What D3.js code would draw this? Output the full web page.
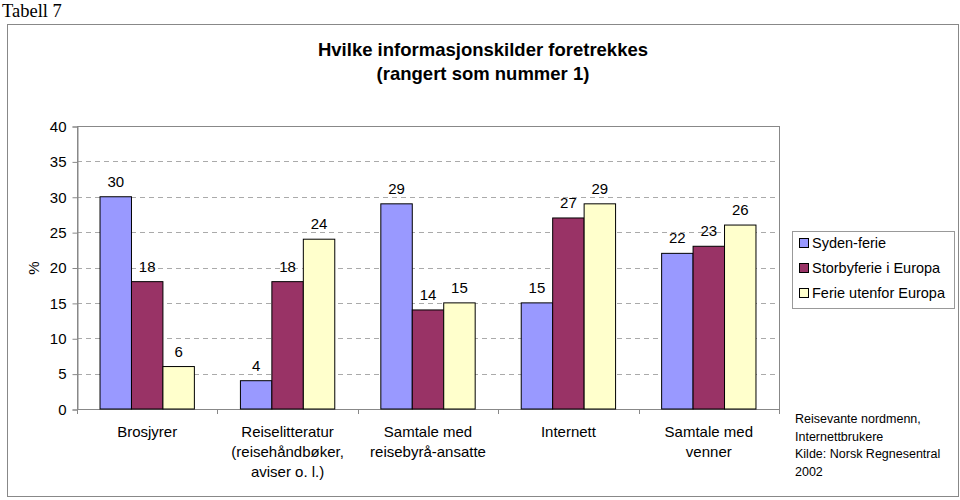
<!DOCTYPE html>
<html><head><meta charset="utf-8">
<script src="https://cdn.jsdelivr.net/npm/d3@7"></script>
<style>body{margin:0;background:#fff}svg{display:block}text{font-family:Arial,"Liberation Sans",sans-serif}</style>
</head><body>
<svg id="c" width="960" height="500"></svg>
<script>
const categories = [["Brosjyrer"],["Reiselitteratur","(reisehåndbøker,","aviser o. l.)"],["Samtale med","reisebyrå-ansatte"],["Internett"],["Samtale med","venner"]];
const seriesNames = ["Syden-ferie","Storbyferie i Europa","Ferie utenfor Europa"];
const syden = [30,4,29,15,22];
const storby = [18,18,14,27,23];
const utenfor = [6,24,15,29,26];
const yTicks = [0,5,10,15,20,25,30,35,40];
const colors = ["#9999FF","#993366","#FFFFCC"];
const noteLines = ["Reisevante nordmenn,","Internettbrukere","Kilde: Norsk Regnesentral","2002"];

const svg = d3.select("#c");
svg.append("text").attr("x",2).attr("y",17).style("font-family","'Liberation Serif','Times New Roman',serif").attr("font-size",18.5).text("Tabell 7");
svg.append("rect").attr("x",7.5).attr("y",24.5).attr("width",951).attr("height",472).attr("fill","none").attr("stroke","#888").attr("stroke-width",1);

svg.append("text").attr("x",483).attr("y",56).attr("text-anchor","middle").attr("font-weight","bold").attr("font-size",18.5).text("Hvilke informasjonskilder foretrekkes");
svg.append("text").attr("x",483).attr("y",80).attr("text-anchor","middle").attr("font-weight","bold").attr("font-size",18.5).text("(rangert som nummer 1)");

const L=77,R=779,T=126,B=409;
const x0 = d3.scaleBand().domain(d3.range(categories.length)).range([L,R]).paddingInner(0.328).paddingOuter(0.164);
const x1 = d3.scaleBand().domain(d3.range(3)).range([0,x0.bandwidth()]);
const y = d3.scaleLinear().domain([0,40]).range([B,T]);

svg.append("g").selectAll("line").data(yTicks.filter(t=>t>0&&t<40)).join("line")
 .attr("x1",L).attr("x2",R).attr("y1",d=>Math.round(y(d))+0.5).attr("y2",d=>Math.round(y(d))+0.5)
 .attr("stroke","#aaa").attr("stroke-dasharray","5,4");
svg.append("rect").attr("x",L+0.5).attr("y",T+0.5).attr("width",R-L).attr("height",B-T).attr("fill","none").attr("stroke","#888");

const yAxis = d3.axisLeft(y).tickValues(yTicks).tickSize(5).tickPadding(6);
const gy = svg.append("g").attr("transform",`translate(${L+0.5},0.5)`).call(yAxis);
gy.select(".domain").attr("stroke","#888");
gy.selectAll(".tick line").attr("stroke","#888");
gy.selectAll(".tick text").attr("font-size",15).attr("font-family",null).attr("fill","#000");

svg.append("text").attr("transform","translate(39,268) rotate(-90)").attr("text-anchor","middle").attr("font-size",15).text("%");

const step = (R-L)/categories.length;
svg.append("g").selectAll("line").data(d3.range(categories.length+1)).join("line")
 .attr("x1",d=>Math.round(L+step*d)+0.5).attr("x2",d=>Math.round(L+step*d)+0.5).attr("y1",B).attr("y2",B+5).attr("stroke","#888");
svg.append("line").attr("x1",L).attr("x2",R).attr("y1",B+0.5).attr("y2",B+0.5).attr("stroke","#888");

const series=[syden,storby,utenfor];
series.forEach((vals,s)=>{
  const g=svg.append("g");
  g.selectAll("rect").data(vals).join("rect")
   .attr("x",(d,i)=>x0(i)+x1(s)).attr("width",x1.bandwidth())
   .attr("y",d=>y(d)).attr("height",d=>B-y(d))
   .attr("fill",colors[s]).attr("stroke","#000").attr("stroke-width",1);
  g.selectAll("text").data(vals).join("text")
   .attr("x",(d,i)=>x0(i)+x1(s)+x1.bandwidth()/2).attr("y",d=>y(d)-10)
   .attr("text-anchor","middle").attr("font-size",15).text(d=>d);
});

const cg=svg.append("g");
categories.forEach((lines,i)=>{
  lines.forEach((t,j)=>{
    cg.append("text").attr("x",L+step*(i+0.5)).attr("y",437+j*20).attr("text-anchor","middle").attr("font-size",15).text(t);
  });
});

svg.append("rect").attr("x",792.5).attr("y",231.5).attr("width",162).attr("height",77).attr("fill","#fff").attr("stroke","#999");
seriesNames.forEach((n,i)=>{
  svg.append("rect").attr("x",799.5).attr("y",238.5+i*25).attr("width",9).attr("height",9).attr("fill",colors[i]).attr("stroke","#000");
  svg.append("text").attr("x",812).attr("y",248+i*25).attr("font-size",14.5).text(n);
});

noteLines.forEach((t,i)=>{
  svg.append("text").attr("x",795).attr("y",423+i*17.5).attr("font-size",12.5).text(t);
});
</script>
</body></html>
